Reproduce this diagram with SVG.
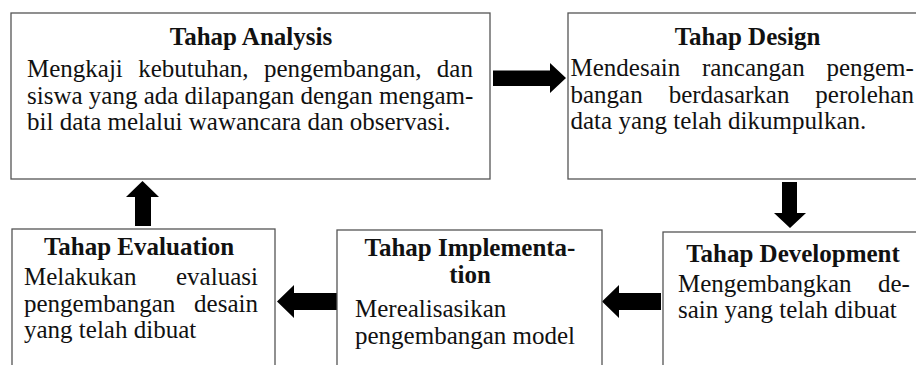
<svg xmlns="http://www.w3.org/2000/svg" width="916" height="365" viewBox="0 0 916 365">
<style>
.box{fill:#fff;stroke:#555;stroke-width:1.3}
.t{font-family:'Liberation Serif','Times New Roman',Tinos,'DejaVu Serif',serif;font-size:25px;font-weight:bold;fill:#111;text-anchor:middle}
.b{font-family:'Liberation Serif','Times New Roman',Tinos,'DejaVu Serif',serif;font-size:25px;fill:#111}
.arr{fill:#000}
</style>
<rect width="916" height="365" fill="#fff"/>
<g id="connectors">
<polygon class="arr" points="493,70.5 550,70.5 550,63 566,78 550,93 550,86 493,86"/>
<polygon class="arr" points="782,182 797,182 797,213 806,213 790,228 774,213 782,213"/>
<polygon class="arr" points="661,293 619,293 619,285 602,301.5 619,318 619,310 661,310"/>
<polygon class="arr" points="337,293 294,293 294,285 277,301.5 294,318 294,310 337,310"/>
<polygon class="arr" points="135,226 135,197 126,197 142.5,181 159,197 151,197 151,226"/>
</g>
<g id="analysis">
<rect class="box" x="11" y="13" width="479" height="166"/>
<text class="t" x="251" y="45">Tahap Analysis</text>
<text class="b" x="27" y="77" word-spacing="9.1">Mengkaji kebutuhan, pengembangan, dan</text>
<text class="b" x="27" y="103.5">siswa yang ada dilapangan dengan mengam-</text>
<text class="b" x="27" y="130">bil data melalui wawancara dan observasi.</text>
</g>
<g id="design">
<rect class="box" x="568" y="13" width="370" height="166"/>
<text class="t" x="747.5" y="45">Tahap Design</text>
<text class="b" x="570.5" y="76" word-spacing="15.5">Mendesain rancangan pengem-</text>
<text class="b" x="570.5" y="102.5" word-spacing="19.7">bangan berdasarkan perolehan</text>
<text class="b" x="570.5" y="129">data yang telah dikumpulkan.</text>
</g>
<g id="development">
<rect class="box" x="663" y="232" width="270" height="150"/>
<text class="t" x="793" y="262">Tahap Development</text>
<text class="b" x="678" y="291.5" word-spacing="20.2">Mengembangkan de-</text>
<text class="b" x="678" y="318">sain yang telah dibuat</text>
</g>
<g id="implementation">
<rect class="box" x="337" y="230" width="265" height="150"/>
<text class="t" x="470" y="256">Tahap Implementa-</text>
<text class="t" x="470" y="283">tion</text>
<text class="b" x="355" y="317">Merealisasikan</text>
<text class="b" x="355" y="344">pengembangan model</text>
</g>
<g id="evaluation">
<rect class="box" x="12" y="229" width="263" height="150"/>
<text class="t" x="139" y="255">Tahap Evaluation</text>
<text class="b" x="24" y="285" word-spacing="33.3">Melakukan evaluasi</text>
<text class="b" x="24" y="311.5" word-spacing="12.5">pengembangan desain</text>
<text class="b" x="24" y="338">yang telah dibuat</text>
</g>
</svg>
